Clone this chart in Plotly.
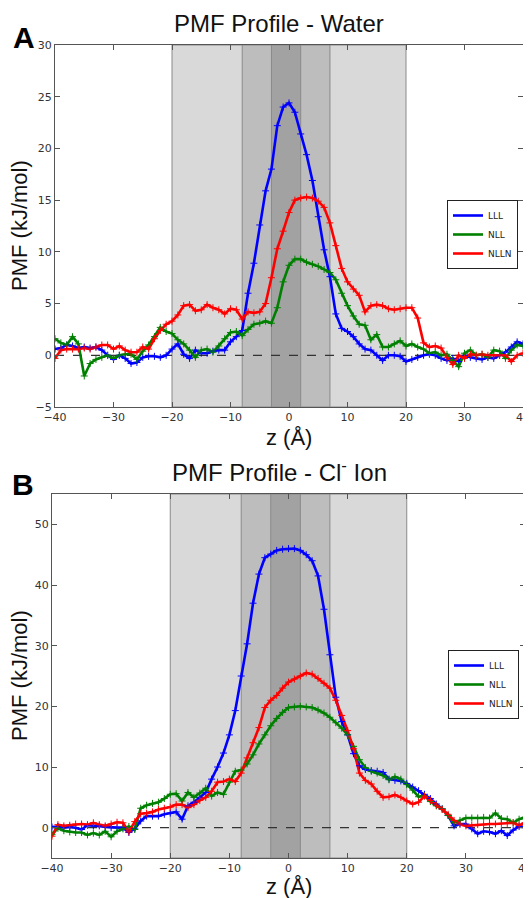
import plotly.graph_objects as go

# ---------------- data ----------------
z = list(range(-40, 41))

water_LLL = [0.6, 0.7, 1.0, 0.9, 0.7, 0.8, 0.7, 0.8, 0.5, 0.0,
             -0.4, 0.0, -0.3, -0.8, -0.7, -0.2, -0.1, -0.1, -0.2, 0.0,
             0.6, 1.1, 0.1, -0.3, 0.5, 0.2, 0.2, 0.4, 0.5, 0.5,
             1.3, 1.8, 2.4, 6.0, 8.9, 12.6, 15.9, 18.0, 22.2, 24.0,
             24.4, 23.5, 21.4, 19.4, 16.9, 13.4, 10.2, 7.6, 4.0, 2.6,
             2.3, 1.8, 1.1, 0.6, 0.5, 0.0, -0.5, 0.0, 0.0, -0.1,
             -0.6, -0.4, -0.2, 0.0, 0.1, 0.0, -0.3, -0.5, -0.3, -0.6,
             0.0, -0.2, -0.3, -0.4, -0.2, -0.3, 0.0, 0.3, 0.8, 1.3, 1.1]

water_NLL = [1.6, 1.2, 1.0, 1.8, 1.1, -2.0, -0.8, -0.4, -0.2, 0.0,
             -0.3, 0.0, 0.1, 0.1, -0.4, 0.4, 1.0, 1.8, 2.7, 2.3,
             2.1, 1.5, 1.1, 0.5, -0.2, 0.5, 0.6, 0.3, 0.9, 1.6,
             2.2, 2.3, 1.9, 2.5, 3.0, 3.1, 3.3, 3.1, 4.6, 7.1,
             8.7, 9.3, 9.3, 9.0, 8.8, 8.6, 8.3, 8.0, 7.3, 6.0,
             4.8, 3.8, 3.0, 2.9, 1.5, 2.0, 0.8, 0.8, 1.1, 1.4,
             0.9, 1.1, 0.8, 0.6, 0.2, 0.3, 0.0, 0.1, -0.5, -1.1,
             0.2, 0.5, 0.0, 0.1, -0.2, 0.5, 0.4, -0.3, 0.5, 1.0, 0.9]

water_NLLN = [-0.3, 0.5, 0.6, 0.6, 0.6, 0.7, 0.6, 0.8, 1.0, 1.0,
              0.6, 0.9, 0.5, 0.3, 0.3, 0.8, 0.6, 1.6, 2.4, 3.0,
              3.3, 3.9, 4.8, 4.9, 4.3, 4.4, 4.9, 4.6, 4.4, 4.0,
              4.5, 4.4, 3.5, 4.2, 4.1, 4.2, 5.0, 7.5, 10.3, 12.0,
              13.8, 15.0, 15.2, 15.3, 15.2, 14.9, 14.3, 12.8, 10.6, 8.4,
              7.1, 6.4, 5.8, 4.2, 4.8, 4.9, 4.8, 4.5, 4.4, 4.5,
              4.6, 4.6, 3.6, 1.2, 0.8, 0.9, 0.7, -0.2, -0.9, 0.0,
              -0.3, 0.1, 0.0, 0.1, 0.0, 0.0, 0.0, 0.0, -0.6, 0.0, 0.2]

ion_LLL = [0.1, 0.2, 0.0, 0.1, 0.0, -0.3, 0.4, 0.3, 0.3, 0.1,
           0.0, 0.0, 0.0, -0.8, -0.2, 1.1, 1.9, 1.9, 1.9, 2.2,
           2.4, 2.6, 1.4, 3.6, 4.2, 5.0, 5.8, 8.0, 10.0, 12.3,
           15.3, 19.3, 25.0, 30.3, 37.0, 41.8, 44.5, 45.1, 45.7, 45.9,
           46.0, 46.0, 45.7, 45.0, 44.0, 41.5, 36.0, 28.5, 21.5, 17.5,
           15.3, 12.2, 10.2, 9.6, 9.4, 9.3, 9.1, 8.0, 7.8, 7.7,
           7.3, 6.7, 6.1, 5.5, 4.8, 3.9, 3.1, 2.0, 0.3, 0.6,
           0.6, -0.2, -1.0, -0.6, -0.7, -1.0, -0.5, -1.3, -0.4, 0.2, 0.1]

ion_NLL = [-1.1, -0.1, -0.5, -0.7, -0.8, -0.8, -1.2, -0.9, -1.2, -0.6,
           -1.5, -0.6, -0.2, 0.2, -0.3, 3.2, 3.7, 4.0, 4.2, 4.8,
           5.5, 5.6, 4.4, 5.8, 5.0, 5.7, 6.5, 5.2, 5.8, 5.5,
           7.5, 9.3, 9.5, 10.5, 12.0, 13.8, 15.3, 16.8, 18.0, 19.0,
           19.8, 19.9, 20.0, 19.9, 19.8, 19.4, 18.9, 18.2, 17.3, 16.4,
           15.3, 13.4, 11.2, 9.9, 9.3, 9.0, 8.6, 7.9, 8.4, 8.0,
           7.1, 6.2, 5.1, 5.3, 4.3, 3.6, 3.1, 2.0, 0.8, 1.2,
           1.6, 1.6, 1.6, 1.7, 1.6, 2.4, 1.5, 1.4, 0.8, 1.4, 1.7]

ion_NLLN = [-1.4, 0.5, 0.3, 0.4, 0.6, 0.6, 0.5, 0.8, 0.5, 0.3,
            0.6, 0.9, 0.8, -0.7, 1.0, 2.3, 2.4, 2.6, 3.0, 3.2,
            3.4, 3.8, 3.8, 3.3, 3.8, 4.5, 5.0, 6.0, 7.5, 7.6,
            8.0, 7.6, 9.0, 11.5, 14.0, 16.5, 19.8, 21.0, 21.8, 23.0,
            24.0, 24.5, 25.0, 25.5, 25.3, 24.6, 23.8, 23.0, 21.0, 18.5,
            16.0, 13.0, 9.0, 7.8, 7.2, 6.0, 5.0, 5.1, 5.4, 5.0,
            4.4, 3.9, 4.2, 5.2, 4.5, 3.7, 3.0, 2.2, 1.2, 0.6,
            0.3, 0.4, 0.5, 0.5, 0.6, 0.6, 0.7, 0.7, 0.8, 0.4, 0.8]

series_names = ["LLL", "NLL", "NLLN"]
series_colors = ["#0000ff", "#008000", "#ff0000"]

# shaded bands (z ranges)
band_ranges = [(-20, 20), (-8, 7), (-3, 2)]
band_colors = ["#d9d9d9", "#bdbdbd", "#a2a2a2"]

x_ticks = [-40, -30, -20, -10, 0, 10, 20, 30, 40]
yA_ticks = [-5, 0, 5, 10, 15, 20, 25, 30]
yB_ticks = [0, 10, 20, 30, 40, 50]

# ---------------- layout helpers ----------------
# page has an 8px body margin; figure sized so that page == 531x898
OFF = 8
W, H = 531 - OFF, 898 - OFF
def fx(p):
    return (p - OFF) / W
def fy(p):
    return 1 - (p - OFF) / H

fig = go.Figure()

panels = [
    dict(xa="x", ya="y", data=[water_LLL, water_NLL, water_NLLN], legend="legend"),
    dict(xa="x2", ya="y2", data=[ion_LLL, ion_NLL, ion_NLLN], legend="legend2"),
]

for p in panels:
    for name, col, vals in zip(series_names, series_colors, p["data"]):
        fig.add_trace(go.Scatter(
            x=z, y=vals, mode="lines", name=name,
            line=dict(color=col, width=2.6),
            xaxis=p["xa"], yaxis=p["ya"], legend=p["legend"],
        ))
    for name, col, vals in zip(series_names, series_colors, p["data"]):
        fig.add_trace(go.Scatter(
            x=z, y=vals, mode="markers", showlegend=False,
            marker=dict(symbol="cross-thin", size=5, color=col,
                        line=dict(color=col, width=1)),
            xaxis=p["xa"], yaxis=p["ya"], hoverinfo="skip",
        ))

shapes = []
for xa, ya in [("x", "y"), ("x2", "y2")]:
    for (a, b), c in zip(band_ranges, band_colors):
        shapes.append(dict(type="rect", xref=xa, yref=ya + " domain",
                           x0=a, x1=b, y0=0, y1=1, fillcolor=c,
                           line=dict(color="#8a8a8a", width=1), layer="below"))
    shapes.append(dict(type="line", xref=xa + " domain", yref=ya,
                       x0=0, x1=1, y0=0, y1=0,
                       line=dict(color="#333333", width=1.3, dash="dash"),
                       layer="below"))

axis_common = dict(
    showgrid=False, zeroline=False, showline=True, mirror="ticks",
    linecolor="#555555", linewidth=1.2, ticks="inside", ticklen=5,
    tickcolor="#555555", automargin=False, ticklabeloverflow="allow",
    tickfont=dict(family="DejaVu Sans", size=11, color="#333333"),
)

fig.update_layout(
    template="none",
    width=W, height=H,
    margin=dict(l=0, r=0, t=0, b=0, pad=0),
    paper_bgcolor="white", plot_bgcolor="white",
    shapes=shapes,
    xaxis=dict(domain=[fx(55), fx(523)], anchor="y", range=[-40, 40],
               tickvals=x_ticks, **axis_common),
    yaxis=dict(domain=[fy(407), fy(45)], anchor="x", range=[-5, 30],
               tickvals=yA_ticks, **axis_common),
    xaxis2=dict(domain=[fx(52), fx(525)], anchor="y2", range=[-40, 40],
                tickvals=x_ticks, **axis_common),
    yaxis2=dict(domain=[fy(858), fy(494)], anchor="x2", range=[-5, 55],
                tickvals=yB_ticks, **axis_common),
    legend=dict(x=fx(518), y=fy(200), xanchor="right", yanchor="top",
                bgcolor="white", bordercolor="#222222", borderwidth=1,
                font=dict(family="DejaVu Sans", size=9, color="#222222"),
                itemwidth=30, tracegroupgap=0),
    legend2=dict(x=fx(519), y=fy(650), xanchor="right", yanchor="top",
                 bgcolor="white", bordercolor="#222222", borderwidth=1,
                 font=dict(family="DejaVu Sans", size=9, color="#222222"),
                 itemwidth=30, tracegroupgap=0),
    showlegend=True,
)

ann = []
title_font = dict(family="Liberation Sans", size=24, color="#111111")
ann.append(dict(text="PMF Profile - Water", x=fx(279), y=fy(23), xref="paper", yref="paper",
                showarrow=False, font=title_font, xanchor="center", yanchor="middle"))
ann.append(dict(text="PMF Profile - Cl<sup>-</sup> Ion", x=fx(279), y=fy(471), xref="paper", yref="paper",
                showarrow=False, font=title_font, xanchor="center", yanchor="middle"))
label_font = dict(family="Liberation Sans", size=30, color="#000000")
ann.append(dict(text="<b>A</b>", x=fx(24), y=fy(38), xref="paper", yref="paper",
                showarrow=False, font=label_font, xanchor="center", yanchor="middle"))
ann.append(dict(text="<b>B</b>", x=fx(23), y=fy(485), xref="paper", yref="paper",
                showarrow=False, font=label_font, xanchor="center", yanchor="middle"))
axlab_font = dict(family="Liberation Sans", size=22, color="#111111")
ann.append(dict(text="PMF (kJ/mol)", x=fx(19), y=fy(226), xref="paper", yref="paper",
                showarrow=False, font=axlab_font, textangle=-90,
                xanchor="center", yanchor="middle"))
ann.append(dict(text="PMF (kJ/mol)", x=fx(19), y=fy(676), xref="paper", yref="paper",
                showarrow=False, font=axlab_font, textangle=-90,
                xanchor="center", yanchor="middle"))
xlab_font = dict(family="Liberation Sans", size=22, color="#111111")
ann.append(dict(text="z (Å)", x=fx(289), y=fy(437), xref="paper", yref="paper",
                showarrow=False, font=xlab_font, xanchor="center", yanchor="middle"))
ann.append(dict(text="z (Å)", x=fx(289), y=fy(886), xref="paper", yref="paper",
                showarrow=False, font=xlab_font, xanchor="center", yanchor="middle"))
fig.update_layout(annotations=ann)

fig.write_html("out.html")
